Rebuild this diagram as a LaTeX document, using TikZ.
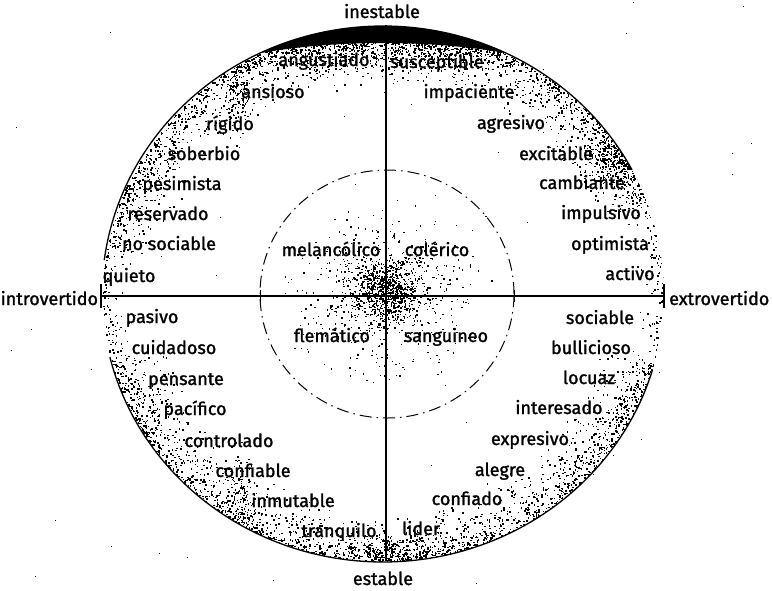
\documentclass[tikz,border=0pt]{standalone}
\usepackage{fontspec}
\setmainfont{Fira Sans}[FakeBold=1.5]
\begin{document}
\begin{tikzpicture}[x=1pt,y=-1pt,
  lbl/.style={font=\fontsize{18}{21}\selectfont, anchor=base, inner sep=0pt},
  axisline/.style={line width=1.4pt, black},
  rim/.style={line width=1.3pt, black},
  innerring/.style={line width=1pt, dash pattern=on 12pt off 5pt on 1.5pt off 5pt},
  speck/.style={fill=black}]
\useasboundingbox (0,0) rectangle (773,590);
\pgfmathsetseed{4242}
\begin{scope}
\clip (383,294) ellipse [x radius=281pt, y radius=268pt];
% ring stipple
\foreach \aa/\bb/\nn/\dep in {20/70/650/55, 70/110/800/60, 110/170/750/55, 170/195/90/25,
  195/265/800/55, 265/285/280/48, 285/345/750/55, 345/380/100/28}
{ \foreach \k in {1,...,\nn}{
   \pgfmathsetmacro\ang{\aa+(\bb-\aa)*rnd}
   \pgfmathsetmacro\rad{1-(\dep*rnd*rnd+0.8)/270}
   \pgfmathsetmacro\px{383+281*\rad*cos(\ang)}
   \pgfmathsetmacro\py{294-268*\rad*sin(\ang)}
   \fill[speck] (\px,\py) rectangle ++(1.5,1.5);
}}
% dense clusters
\foreach \cx/\cy/\sx/\sy/\nn in {237/88/10/50/160, 240/505/14/55/160, 615/160/30/24/300,
  330/48/80/18/350, 440/50/80/18/350, 385/292/80/70/650, 386/290/32/32/700, 395/548/70/16/250,
  140/420/40/60/150, 630/430/40/50/150}
{ \foreach \k in {1,...,\nn}{
   \pgfmathsetmacro\px{\cx+\sx*(rnd+rnd+rnd-1.5)}
   \pgfmathsetmacro\py{\cy+\sy*(rnd+rnd+rnd-1.5)}
   \fill[speck] (\px,\py) rectangle ++(1.4,1.4);
}}
% top dark band
\fill plot[domain=64:116, samples=60] ({383+281*cos(\x)},{294-268*sin(\x)})
  -- plot[domain=116:64, samples=60] ({383+(281-max(0,17*(1-((\x-90)/26)^2)))*cos(\x)},{294-(268-max(0,17*(1-((\x-90)/26)^2)))*sin(\x)}) -- cycle;
\end{scope}
% sparse noise outside
\foreach \k in {1,...,50}{
   \pgfmathsetmacro\px{773*rnd}
   \pgfmathsetmacro\py{590*rnd}
   \fill[speck] (\px,\py) rectangle ++(1,1);}
% outer rim
\draw[rim] plot[domain=27.6:172.7, samples=140] ({383+281*cos(\x)},{294-268*sin(\x)});
\draw[rim] plot[domain=193.6:343.5, samples=140] ({383+281*cos(\x)},{294-268*sin(\x)});
\draw[rim] (101,284) -- (101,308);
\draw[rim] (664,284) -- (664,308);
% inner dashed ring
\draw[innerring] (387,294) ellipse [x radius=127pt, y radius=124pt];
% axes
\draw[axisline] (101,296) -- (664,296);
\draw[axisline] (386,25) -- (386,561);
\draw[line width=0.9pt] (260,290) -- (260,302);
\draw[line width=0.9pt] (514,290) -- (514,302);
% labels
\node[lbl] (ines) at (382,18) {inestable};
\node[lbl] (esta) at (383,585) {estable};
\node[lbl, anchor=base west] (extro) at (669,305) {extrovertido};
\node[lbl, anchor=base west] (intro) at (0.5,305) {introvertido};
\node[lbl] (w1) at (324,66) {angustiado};
\node[lbl] (w2) at (273,98) {ansioso};
\node[lbl] (w3) at (230,130) {rígido};
\node[lbl] (w4) at (204,160) {soberbio};
\node[lbl] (w5) at (182,190) {pesimista};
\node[lbl] (w6) at (168,220) {reservado};
\node[lbl] (w7) at (169,250) {no sociable};
\node[lbl] (w8) at (129,282) {quieto};
\node[lbl] (w9) at (437,68) {susceptible};
\node[lbl] (w10) at (469,98) {impaciente};
\node[lbl] (w11) at (511,129) {agresivo};
\node[lbl] (w12) at (556,160) {excitable};
\node[lbl] (w13) at (582,189) {cambiante};
\node[lbl] (w14) at (601,219) {impulsivo};
\node[lbl] (w15) at (610,250) {optimista};
\node[lbl] (w16) at (630,280) {activo};
\node[lbl] (t1) at (331,256) {melancólico};
\node[lbl] (t2) at (437,256) {colérico};
\node[lbl] (t3) at (332,342) {flemático};
\node[lbl] (t4) at (446,342) {sanguineo};
\node[lbl] (w17) at (152,323) {pasivo};
\node[lbl] (w18) at (174,354) {cuidadoso};
\node[lbl] (w19) at (186,385) {pensante};
\node[lbl] (w20) at (195,415) {pacífico};
\node[lbl] (w21) at (229,447) {controlado};
\node[lbl] (w22) at (253,477) {confiable};
\node[lbl] (w23) at (293,507) {inmutable};
\node[lbl] (w24) at (339,537) {tranquilo};
\node[lbl] (w25) at (600,324) {sociable};
\node[lbl] (w26) at (591,354) {bullicioso};
\node[lbl] (w27) at (589,384) {locuaz};
\node[lbl] (w28) at (559,414) {interesado};
\node[lbl] (w29) at (530,445) {expresivo};
\node[lbl] (w30) at (500,476) {alegre};
\node[lbl] (w31) at (467,505) {confiado};
\node[lbl] (w32) at (421,535) {lider};
\end{tikzpicture}
\end{document}
